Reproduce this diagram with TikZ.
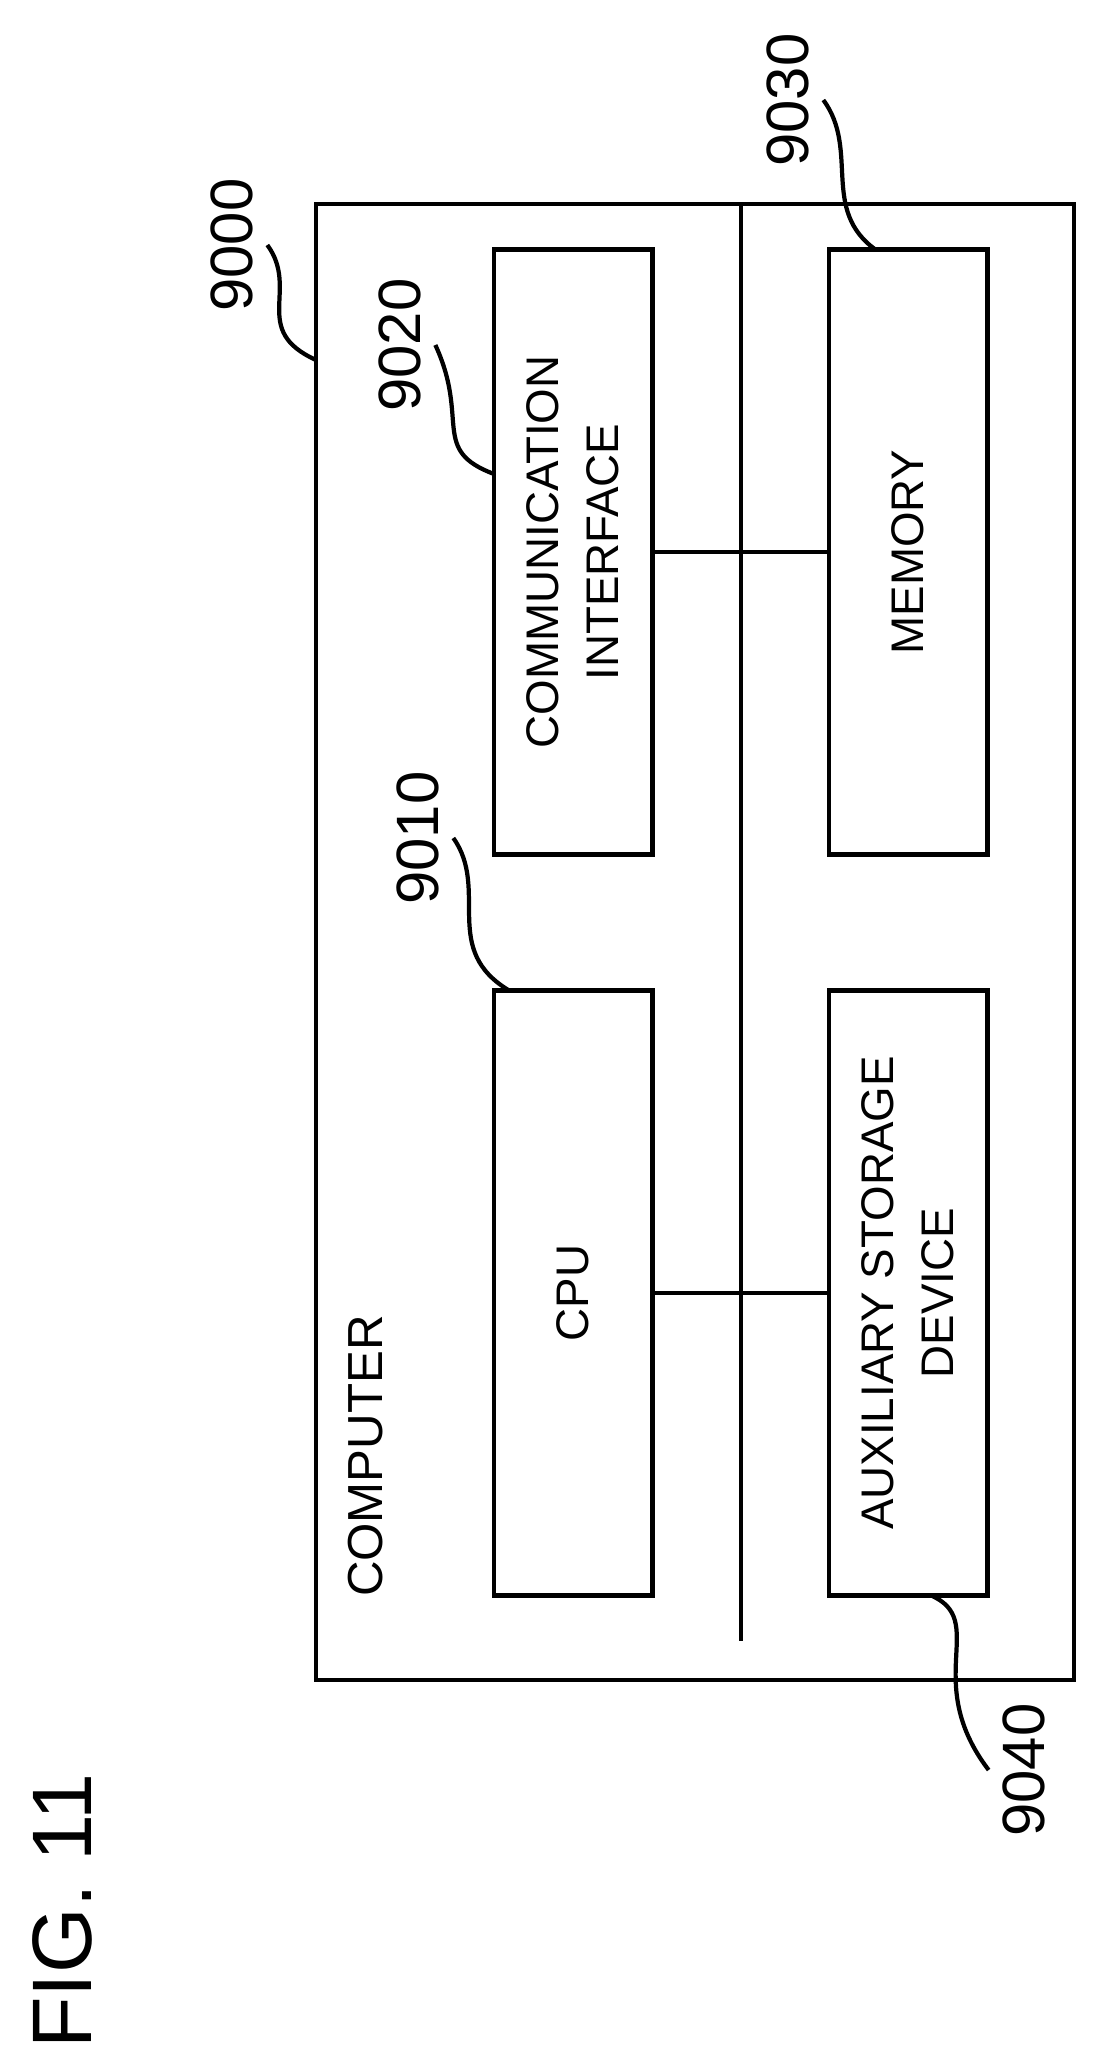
\documentclass[tikz,border=0pt]{standalone}
\usepackage{fontspec}
\setmainfont{Liberation Sans}
\usetikzlibrary{positioning}

\begin{document}
\begin{tikzpicture}[x=0.01cm,y=-0.01cm,line width=1.4pt]
       \tikzstyle{unit}=[draw,minimum width=6.04cm,minimum height=1.58cm,inner sep=0pt,rotate=90,align=center,font=\fontsize{13}{17}\selectfont]
       \tikzstyle{refnum}=[rotate=90,font=\fontsize{17}{20}\selectfont]
       \tikzstyle{leader}=[line width=1.2pt]

       \useasboundingbox (0,0) rectangle (1094,2055);

       % housing and bus
       \draw (316,204) rectangle (1074,1680);
       \coordinate (bustop) at (741,204);
       \coordinate (busbot) at (741,1641);
       \draw (bustop) -- (busbot);

       \node[unit] (CI)  at (573,552)  {COMMUNICATION\\INTERFACE};
       \node[unit] (MEM) at (908,552)  {MEMORY};
       \node[unit] (CPU) at (573,1293) {CPU};
       \node[unit] (AUX) at (908,1293) {AUXILIARY STORAGE\\DEVICE};

       \draw (CI.south) -- (MEM.north);
       \draw (CPU.south) -- (AUX.north);

       \node[rotate=90,font=\fontsize{14}{16}\selectfont] (COMP) at (366,1456) {COMPUTER};
       \node[rotate=90,font=\fontsize{24}{28}\selectfont] (FIG) at (62,1911) {FIG. 11};

       % reference numerals
       \node[refnum] (N9000) at (232,245) {9000};
       \node[refnum] (N9020) at (400,345) {9020};
       \node[refnum] (N9010) at (418,838) {9010};
       \node[refnum] (N9030) at (788,100) {9030};
       \node[refnum] (N9040) at (1024,1770) {9040};

       \coordinate (P9000) at (316,360);
       \coordinate (P9020) at (494,474);
       \coordinate (P9010) at (510,991);
       \coordinate (P9030) at (876,250);
       \coordinate (P9040) at (930,1595);

       \draw[leader] (N9000.south) .. controls (300,290) and (250,330) .. (P9000);
       \draw[leader] (N9020.south) .. controls (470,420) and (430,450) .. (P9020);
       \draw[leader] (N9010.south) .. controls (490,890) and (440,950) .. (P9010);
       \draw[leader] (N9030.south) .. controls (860,150) and (820,210) .. (P9030);
       \draw[leader] (P9040) .. controls (990,1620) and (920,1680) .. (N9040.north);
\end{tikzpicture}
\end{document}
